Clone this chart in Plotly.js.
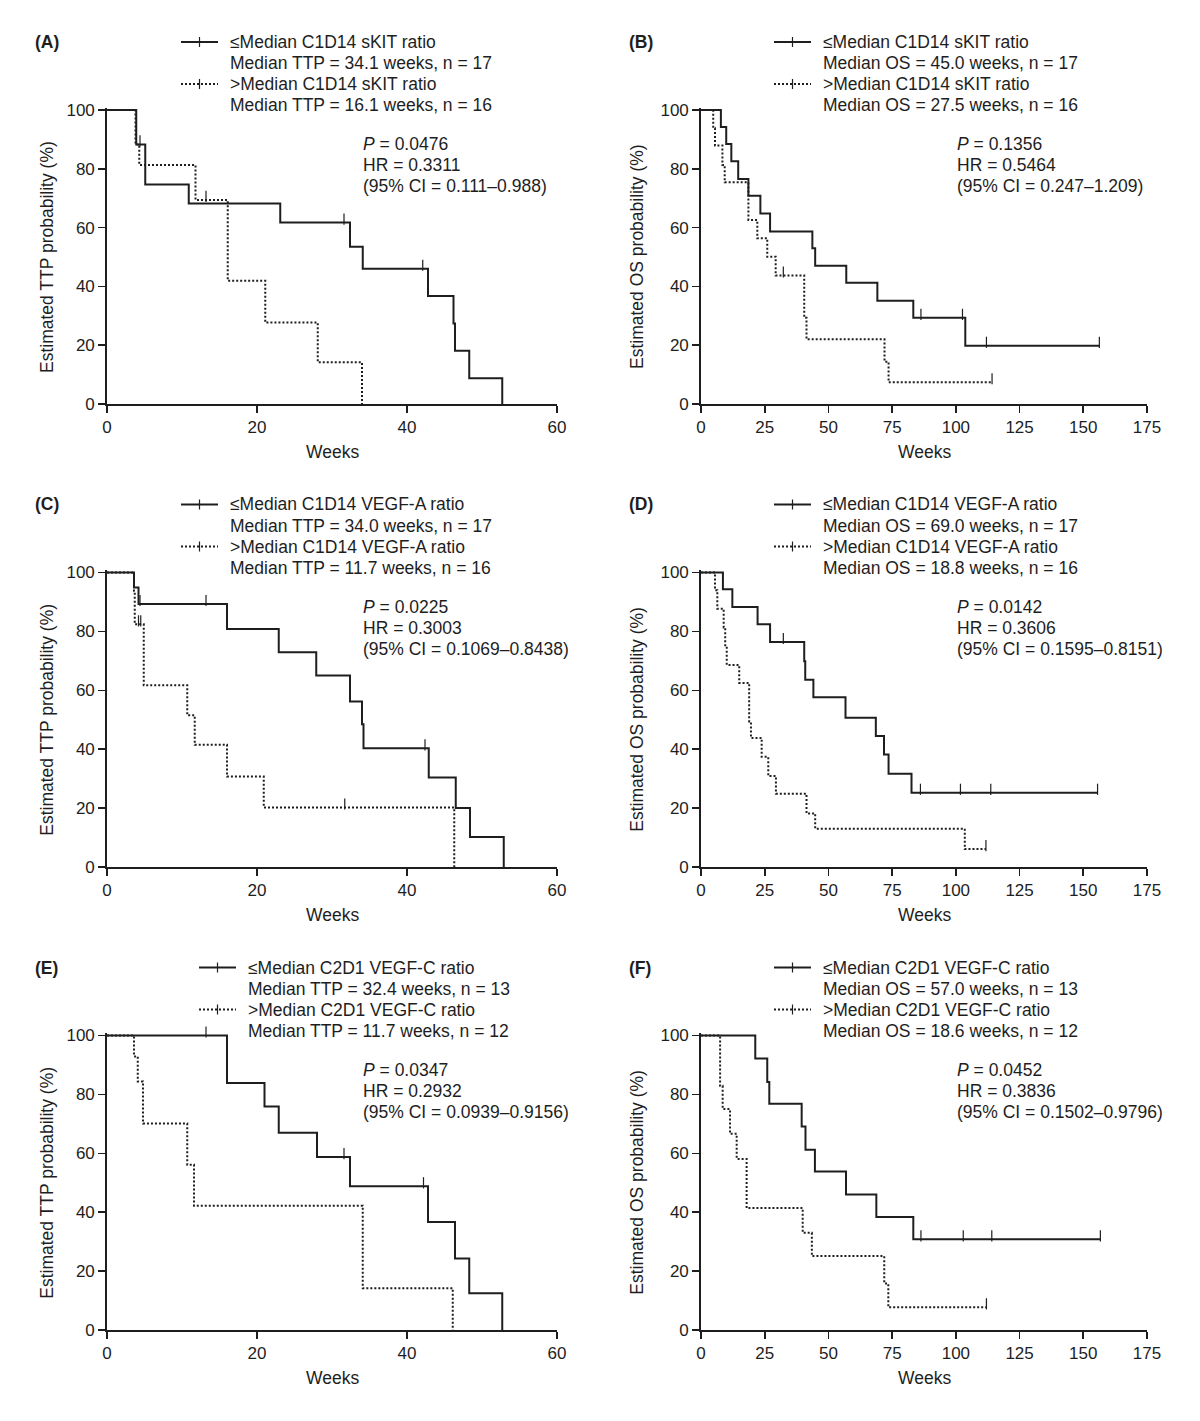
<!DOCTYPE html>
<html>
<head>
<meta charset="utf-8">
<script src="https://cdn.plot.ly/plotly-3.0.1.min.js"></script>
<style>html,body{margin:0;padding:0;background:#fff}</style>
</head>
<body>
<div id="chart" style="width:1200px;height:1421px"></div>
<script>
// Kaplan-Meier curves: event times (weeks), survival (%) after each event, censor times
// (A) TTP by C1D14 sKIT ratio
const aLoT = [3.9, 5.1, 10.9, 23.1, 32.4, 34.1, 42.8, 46.2, 46.4, 48.3, 52.7];
const aLoS = [88.3, 74.7, 68.2, 61.7, 53.5, 46.0, 36.7, 27.4, 18.1, 8.8, 0];
const aLoC = [4.4, 31.6, 42.1];
const aHiT = [3.8, 4.3, 11.8, 16.1, 21.1, 28.1, 34.0];
const aHiS = [88.3, 81.3, 69.4, 41.9, 27.7, 14.2, 0];
const aHiC = [13.2];

// (B) OS by C1D14 sKIT ratio
const bLoT = [7.8, 9.9, 11.9, 14.6, 18.6, 23.3, 27.1, 43.7, 44.8, 57.0, 69.2, 83.3, 103.7];
const bLoS = [94.2, 88.4, 82.6, 76.5, 70.8, 64.8, 58.7, 53.0, 47.0, 41.2, 35.1, 29.3, 19.8];
const bLoC = [86.3, 102.6, 112.0, 156.3];
const bHiT = [4.8, 5.5, 8.4, 9.3, 18.6, 22.1, 26.0, 29.3, 40.5, 41.4, 72.0, 73.6];
const bHiS = [93.8, 87.9, 81.3, 75.4, 62.6, 56.4, 50.1, 43.7, 29.3, 22.0, 14.4, 7.4];
const bHiC = [32.3, 114.2];

// (C) TTP by C1D14 VEGF-A ratio
const cLoT = [3.6, 4.2, 16.0, 22.9, 27.9, 32.4, 34.0, 34.2, 42.9, 46.5, 48.4, 52.9];
const cLoS = [94.9, 89.3, 80.8, 72.9, 65.0, 56.2, 48.5, 40.3, 30.4, 20.0, 10.2, 0];
const cLoC = [4.4, 13.2, 42.4];
const cHiT = [3.6, 3.7, 4.9, 10.7, 11.7, 16.0, 20.9, 46.3];
const cHiS = [93.8, 82.4, 61.7, 51.5, 41.5, 30.7, 20.2, 0];
const cHiC = [4.2, 4.5, 31.7];

// (D) OS by C1D14 VEGF-A ratio
const dLoT = [8.6, 12.3, 22.2, 27.1, 40.5, 40.9, 44.1, 56.7, 68.6, 71.8, 73.6, 82.6];
const dLoS = [94.3, 88.3, 82.4, 76.4, 69.9, 63.6, 57.6, 50.7, 44.5, 38.2, 31.7, 25.2];
const dLoC = [32.3, 86.1, 101.8, 113.7, 155.6];
const dHiT = [5.5, 6.4, 8.9, 9.5, 10.1, 15.0, 18.9, 19.6, 23.8, 26.4, 29.4, 41.4, 44.8, 103.5];
const dHiS = [94.0, 87.7, 81.3, 74.8, 68.6, 62.5, 49.4, 43.8, 37.4, 30.9, 24.9, 18.2, 13.0, 6.1];
const dHiC = [111.8];

// (E) TTP by C2D1 VEGF-C ratio
const eLoT = [16.0, 21.0, 22.9, 28.0, 32.4, 42.8, 46.4, 48.3, 52.7];
const eLoS = [83.9, 75.9, 67.0, 58.7, 48.8, 36.7, 24.3, 12.5, 0];
const eLoC = [13.2, 31.6, 42.2];
const eHiT = [3.6, 4.1, 4.8, 10.7, 11.6, 34.1, 46.1];
const eHiS = [92.9, 84.4, 70.1, 56.1, 42.2, 14.2, 0];
const eHiC = [];

// (F) OS by C2D1 VEGF-C ratio
const fLoT = [21.3, 26.0, 26.8, 39.5, 41.0, 44.7, 56.9, 68.8, 83.3];
const fLoS = [92.2, 84.2, 76.8, 69.1, 61.2, 53.8, 46.0, 38.4, 30.8];
const fLoC = [86.3, 102.9, 114.1, 156.7];
const fHiT = [7.5, 8.5, 11.4, 14.0, 17.9, 39.9, 43.5, 71.9, 73.5];
const fHiS = [82.9, 75.0, 66.6, 58.1, 41.4, 33.0, 25.1, 15.8, 7.7];
const fHiC = [112.0];

const panelLabels = ['(A)', '(B)', '(C)', '(D)', '(E)', '(F)'];
const legendLines = [
  ['≤Median C1D14 sKIT ratio', 'Median TTP = 34.1 weeks, n = 17', '>Median C1D14 sKIT ratio', 'Median TTP = 16.1 weeks, n = 16'],
  ['≤Median C1D14 sKIT ratio', 'Median OS = 45.0 weeks, n = 17', '>Median C1D14 sKIT ratio', 'Median OS = 27.5 weeks, n = 16'],
  ['≤Median C1D14 VEGF-A ratio', 'Median TTP = 34.0 weeks, n = 17', '>Median C1D14 VEGF-A ratio', 'Median TTP = 11.7 weeks, n = 16'],
  ['≤Median C1D14 VEGF-A ratio', 'Median OS = 69.0 weeks, n = 17', '>Median C1D14 VEGF-A ratio', 'Median OS = 18.8 weeks, n = 16'],
  ['≤Median C2D1 VEGF-C ratio', 'Median TTP = 32.4 weeks, n = 13', '>Median C2D1 VEGF-C ratio', 'Median TTP = 11.7 weeks, n = 12'],
  ['≤Median C2D1 VEGF-C ratio', 'Median OS = 57.0 weeks, n = 13', '>Median C2D1 VEGF-C ratio', 'Median OS = 18.6 weeks, n = 12']
];
const statLines = [
  ['<i>P</i> = 0.0476', 'HR = 0.3311', '(95% CI = 0.111–0.988)'],
  ['<i>P</i> = 0.1356', 'HR = 0.5464', '(95% CI = 0.247–1.209)'],
  ['<i>P</i> = 0.0225', 'HR = 0.3003', '(95% CI = 0.1069–0.8438)'],
  ['<i>P</i> = 0.0142', 'HR = 0.3606', '(95% CI = 0.1595–0.8151)'],
  ['<i>P</i> = 0.0347', 'HR = 0.2932', '(95% CI = 0.0939–0.9156)'],
  ['<i>P</i> = 0.0452', 'HR = 0.3836', '(95% CI = 0.1502–0.9796)']
];
const yTitles = ['Estimated TTP probability (%)', 'Estimated OS probability (%)'];
const xMax = [60, 175];
const xStep = [20, 25];

const curves = [
  [[aLoT, aLoS, aLoC], [aHiT, aHiS, aHiC]],
  [[bLoT, bLoS, bLoC], [bHiT, bHiS, bHiC]],
  [[cLoT, cLoS, cLoC], [cHiT, cHiS, cHiC]],
  [[dLoT, dLoS, dLoC], [dHiT, dHiS, dHiC]],
  [[eLoT, eLoS, eLoC], [eHiT, eHiS, eHiC]],
  [[fLoT, fLoS, fLoC], [fHiT, fHiS, fHiC]]
];

// page geometry in pixels
const W = 1200, H = 1421;
const colX0 = [107, 701], colX1 = [557, 1147];
const rowTop = [110, 572.5, 1035.5], rowBot = [404, 867, 1330];
const legendTextX = [228, 821, 228, 821, 246, 821];
const statX = [361, 955];
const yTitleX = [47, 637];
const ink = '#1e1e1e';
const FONT = '"Liberation Sans", Arial, Helvetica, sans-serif';
const px = v => v / W;
const py = v => 1 - v / H;

// turn event/censor lists into a step path plus censor tick positions
function km(t, s, c) {
  const pts = t.map((v, i) => ({x: v, y: s[i], cens: false}))
    .concat(c.map(v => ({x: v, cens: true})))
    .sort((a, b) => a.x - b.x);
  const xs = [0], ys = [100], cx = [], cy = [];
  let cur = 100;
  pts.forEach(p => {
    if (!p.cens) cur = p.y;
    xs.push(p.x); ys.push(cur);
    if (p.cens) { cx.push(p.x); cy.push(cur); }
  });
  return {xs, ys, cx, cy};
}

const traces = [];
const layout = {
  width: W, height: H,
  margin: {l: 0, r: 0, t: 0, b: 0},
  paper_bgcolor: '#fff', plot_bgcolor: '#fff',
  showlegend: false,
  font: {family: FONT, size: 17, color: ink},
  annotations: [], shapes: []
};

const ann = (text, x, y, extra) => layout.annotations.push(Object.assign({
  text, x: px(x), y: py(y), xref: 'paper', yref: 'paper',
  xanchor: 'left', yanchor: 'middle', showarrow: false,
  font: {family: FONT, size: 17.5, color: ink}
}, extra || {}));

for (let p = 0; p < 6; p++) {
  const col = p % 2, row = Math.floor(p / 2);
  const n = p + 1;
  const xa = 'xaxis' + (n === 1 ? '' : n), ya = 'yaxis' + (n === 1 ? '' : n);
  const xr = 'x' + (n === 1 ? '' : n), yr = 'y' + (n === 1 ? '' : n);
  const top = rowTop[row], bot = rowBot[row];
  const yHi = 100.8;
  const domTop = bot - (bot - top) * yHi / 100;

  layout[xa] = {
    domain: [px(colX0[col]), px(colX1[col])], anchor: yr,
    range: [0, xMax[col]], dtick: xStep[col], tick0: 0,
    showline: true, linewidth: 1.8, linecolor: ink,
    ticks: 'outside', ticklen: 7, tickwidth: 1.6, tickcolor: ink,
    showgrid: false, zeroline: false, fixedrange: true,
    tickfont: {family: FONT, size: 17, color: ink}
  };
  layout[ya] = {
    domain: [py(bot), py(domTop)], anchor: xr,
    range: [0, yHi], tickvals: [0, 20, 40, 60, 80, 100],
    showline: true, linewidth: 1.8, linecolor: ink,
    ticks: 'outside', ticklen: 7, tickwidth: 1.6, tickcolor: ink,
    showgrid: false, zeroline: false, fixedrange: true,
    tickfont: {family: FONT, size: 17, color: ink}
  };

  curves[p].forEach((cv, k) => {
    const d = km(cv[0], cv[1], cv[2]);
    traces.push({
      x: d.xs, y: d.ys, xaxis: xr, yaxis: yr, mode: 'lines', hoverinfo: 'skip',
      line: {shape: 'hv', width: 2, color: ink, dash: k === 0 ? 'solid' : '2px,2px'}
    });
    // censor ticks sit on top of the curve
    if (d.cx.length) traces.push({
      x: d.cx, y: d.cy, xaxis: xr, yaxis: yr, mode: 'markers', cliponaxis: false, hoverinfo: 'skip',
      marker: {symbol: 'line-ns', size: 8, standoff: 3.5, angle: 180, color: ink, line: {width: 1.2, color: ink}}
    });
  });

  // legend text and key samples
  const lx = legendTextX[p];
  const ly = [top - 68, top - 47, top - 26, top - 5];
  legendLines[p].forEach((t, i) => ann(t, lx, ly[i]));
  [0, 2].forEach((i, k) => {
    const x0 = lx - 47, x1 = lx - 10, yy = ly[i];
    layout.shapes.push({type: 'line', xref: 'paper', yref: 'paper',
      x0: px(x0), x1: px(x1), y0: py(yy), y1: py(yy),
      line: {color: ink, width: 2, dash: k === 0 ? 'solid' : '2px,2px'}});
    layout.shapes.push({type: 'line', xref: 'paper', yref: 'paper',
      x0: px((x0 + x1) / 2), x1: px((x0 + x1) / 2), y0: py(yy - 5), y1: py(yy + 5),
      line: {color: ink, width: 1.2}});
  });

  // statistics block
  const sy = [top + 34, top + 55, top + 76];
  statLines[p].forEach((t, i) => ann(t, statX[col], sy[i]));

  // panel letter
  ann('<b>' + panelLabels[p] + '</b>', colX0[col] - 74, ly[0]);

  // axis titles
  ann('Weeks', (colX0[col] + colX1[col]) / 2, bot + 48, {xanchor: 'center'});
  ann(yTitles[col], yTitleX[col], (top + bot) / 2, {xanchor: 'center', textangle: -90});
}

Plotly.newPlot('chart', traces, layout, {staticPlot: true, displayModeBar: false});
</script>
</body>
</html>
